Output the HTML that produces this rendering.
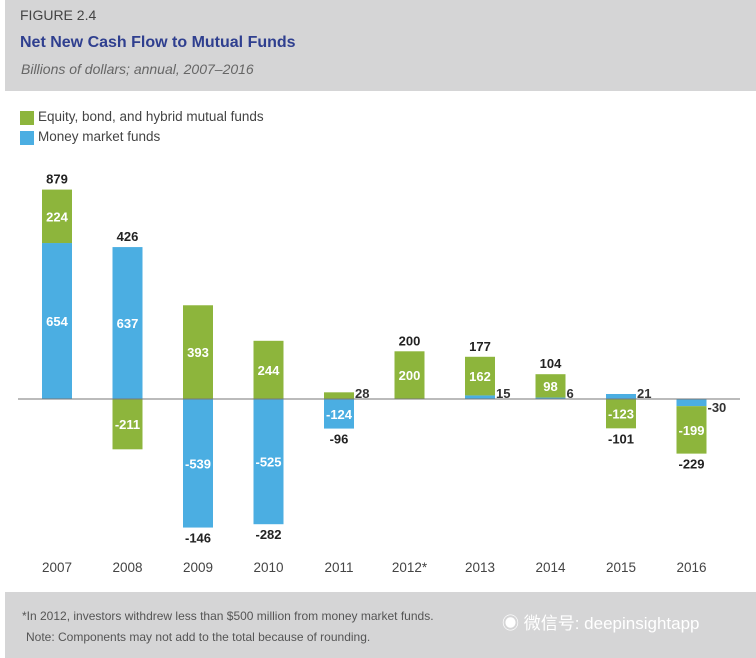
<!DOCTYPE html>
<html><head><meta charset="utf-8"><style>
body{margin:0;width:756px;height:658px;background:#fff;overflow:hidden;font-family:"Liberation Sans","Noto Sans CJK SC",sans-serif;position:relative}
.hdr{position:absolute;left:5px;top:0;width:751px;height:91px;background:#d5d5d6}
.ftr{position:absolute;left:5px;top:592px;width:751px;height:66px;background:#d5d5d6}
.t{position:absolute;white-space:nowrap}
</style></head><body>
<div class="hdr"></div>
<div class="t" style="left:20px;top:7px;font-size:14px;color:#444">FIGURE 2.4</div>
<div class="t" style="left:20px;top:34px;font-size:16px;font-weight:bold;color:#2f3f8f">Net New Cash Flow to Mutual Funds</div>
<div class="t" style="left:21px;top:61px;font-size:14px;font-style:italic;color:#666">Billions of dollars; annual, 2007–2016</div>
<div>
<div style="position:absolute;left:20px;top:111px;width:14px;height:14px;background:#8db53c"></div>
<div class="t" style="left:38px;top:109px;font-size:13.5px;color:#444">Equity, bond, and hybrid mutual funds</div>
<div style="position:absolute;left:20px;top:131px;width:14px;height:14px;background:#4baee2"></div>
<div class="t" style="left:38px;top:129px;font-size:13.5px;color:#444">Money market funds</div>
</div>
<svg id="chart" width="756" height="658" style="position:absolute;left:0;top:0"></svg>
<div class="ftr"></div>
<div class="t" style="left:22px;top:609px;font-size:12px;color:#555">*In 2012, investors withdrew less than $500 million from money market funds.</div>
<div class="t" style="left:26px;top:630px;font-size:12px;color:#555">Note: Components may not add to the total because of rounding.</div>
<div class="t" style="left:502px;top:609px;font-size:17px;color:#fff">◉ 微信号: deepinsightapp</div>
<script>
const years=["2007","2008","2009","2010","2011","2012*","2013","2014","2015","2016"];
const equity=[224,-211,393,244,28,200,162,98,-123,-199];
const money=[654,637,-539,-525,-124,0,15,6,21,-30];
const totals=[879,426,-146,-282,-96,200,177,104,-101,-229];
const svg=document.getElementById('chart');const NS='http://www.w3.org/2000/svg';
const zeroY=399,scale=0.2385,x0=57,step=70.5,bw=30;
const y=v=>zeroY-v*scale;const xc=i=>x0+i*step;
function mk(tag,a){const e=document.createElementNS(NS,tag);for(const k in a)e.setAttribute(k,a[k]);svg.appendChild(e);return e;}
function txt(s,x,yy,fill,anchor){const e=mk('text',{x:x,y:yy,fill:fill,'font-size':13,'font-weight':'bold','text-anchor':anchor||'middle','font-family':'Liberation Sans, sans-serif'});e.textContent=s;return e;}
years.forEach((yr,i)=>{
  let pos=0,neg=0;const cx=xc(i);
  [[money[i],'#4baee2','money'],[equity[i],'#8db53c','equity']].forEach(([v,c,n])=>{
    if(v===0)return;let top,bot;
    if(v>0){bot=pos;pos+=v;top=pos;}else{top=neg;neg+=v;bot=neg;}
    const r=mk('rect',{x:cx-bw/2,y:y(top),width:bw,height:Math.max(1,(top-bot)*scale),fill:c});
    
    
    const mid=(y(top)+y(bot))/2;
    let t;
    if(Math.abs(v)<40){t=txt(String(v),cx+bw/2+1,(v>0?zeroY-1:zeroY+13)+(v>0?0:0),'#333','start');}
    else t=txt(String(v),cx,mid+5,'#fff');
    
    
  });
  const tt=totals[i]>0?txt(String(totals[i]),cx,y(pos)-6,'#222'):txt(String(totals[i]),cx,y(neg)+15,'#222');
  
  
  const xl=mk('text',{x:cx,y:572,fill:'#444','font-size':13.5,'text-anchor':'middle','font-family':'Liberation Sans, sans-serif'});xl.textContent=yr;
  
  
});
const ax=mk('line',{x1:18,x2:740,y1:zeroY,y2:zeroY,stroke:'#777','stroke-width':1});


</script>
</body></html>
